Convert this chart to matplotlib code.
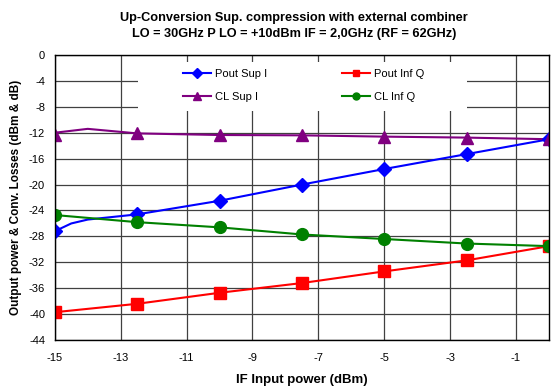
import matplotlib
matplotlib.use("Agg")
import matplotlib.pyplot as plt
from matplotlib.patches import Rectangle

plt.rcParams['font.family'] = ['Liberation Sans', 'DejaVu Sans']
plt.rcParams['axes.unicode_minus'] = False

# measured points (markers)
pin = [-15, -12.5, -10, -7.5, -5, -2.5, 0]
pout_sup_i = [-27.2, -24.6, -22.5, -20.0, -17.6, -15.3, -13.0]
pout_inf_q = [-39.7, -38.4, -36.7, -35.2, -33.4, -31.7, -29.5]
cl_sup_i = [-12.3, -12.1, -12.35, -12.4, -12.6, -12.75, -13.0]
cl_inf_q = [-24.7, -25.8, -26.6, -27.7, -28.4, -29.1, -29.5]

# extra points of the drawn curves (no marker)
pin_blue_line = [-15, -14.5, -14, -12.5, -10, -7.5, -5, -2.5, 0]
pout_sup_i_line = [-27.2, -26.0, -25.4, -24.6, -22.5, -20.0, -17.6, -15.3, -13.0]
pin_purple_line = [-15, -14, -12.5, -10, -7.5, -5, -2.5, 0]
cl_sup_i_line = [-12.0, -11.4, -12.1, -12.35, -12.4, -12.6, -12.75, -13.0]

fig = plt.figure(figsize=(5.59, 3.9), dpi=100)
ax = fig.add_axes([0.098, 0.128, 0.884, 0.731])

ax.plot(pin_blue_line, pout_sup_i_line, color='blue', lw=1.5, zorder=3)
ax.plot(pin, pout_sup_i, 'D', color='blue', ms=7.5, zorder=4)
ax.plot(pin_purple_line, cl_sup_i_line, color='purple', lw=1.5, zorder=3)
ax.plot(pin, cl_sup_i, '^', color='purple', ms=9, zorder=4)
ax.plot(pin, pout_inf_q, '-s', color='red', lw=1.5, ms=8, zorder=4)
ax.plot(pin, cl_inf_q, '-o', color='green', lw=1.5, ms=8.5, zorder=4)

# white legend box (wider than the entries, like the original)
ax.add_patch(Rectangle((0.168, 0.804), 0.666, 0.171, transform=ax.transAxes,
                       facecolor='white', edgecolor='none', zorder=5))

# legend handles
h1, = ax.plot([], [], '-D', color='blue', lw=1.5, ms=5)
h2, = ax.plot([], [], '-^', color='purple', lw=1.5, ms=6)
h3, = ax.plot([], [], '-s', color='red', lw=1.5, ms=5)
h4, = ax.plot([], [], '-o', color='green', lw=1.5, ms=5)
leg = ax.legend([h1, h2, h3, h4], ['Pout Sup I', 'CL Sup I', 'Pout Inf Q', 'CL Inf Q'],
                ncol=2, loc='upper left', bbox_to_anchor=(0.235, 0.995),
                frameon=False, fontsize=8, handlelength=2.5, handletextpad=0.35,
                columnspacing=6.8, labelspacing=1.2, borderpad=0.6)
leg.set_zorder(6)

ax.set_xlim(-15, 0)
ax.set_ylim(-44, 0)
ax.set_xticks([-15, -13, -11, -9, -7, -5, -3, -1])
ax.set_yticks(range(-44, 1, 4))
ax.grid(True, color='#404040', lw=0.9)
ax.set_axisbelow(True)
ax.tick_params(axis='y', labelsize=8, length=0, pad=7)
ax.tick_params(axis='x', labelsize=8, length=0, pad=9)
for s in ax.spines.values():
    s.set_linewidth(1.0)
    s.set_zorder(7)

ax.set_xlabel('IF Input power (dBm)', fontsize=9.5, fontweight='bold', labelpad=8)
ax.set_ylabel('Output power & Conv. Losses (dBm & dB)', fontsize=8.5, fontweight='bold', labelpad=5)
fig.suptitle('Up-Conversion Sup. compression with external combiner\n'
             'LO = 30GHz P LO = +10dBm IF = 2,0GHz (RF = 62GHz)',
             x=0.526, fontsize=9.2, fontweight='bold', y=0.968, linespacing=1.35)

fig.savefig('out.png', dpi=100)
